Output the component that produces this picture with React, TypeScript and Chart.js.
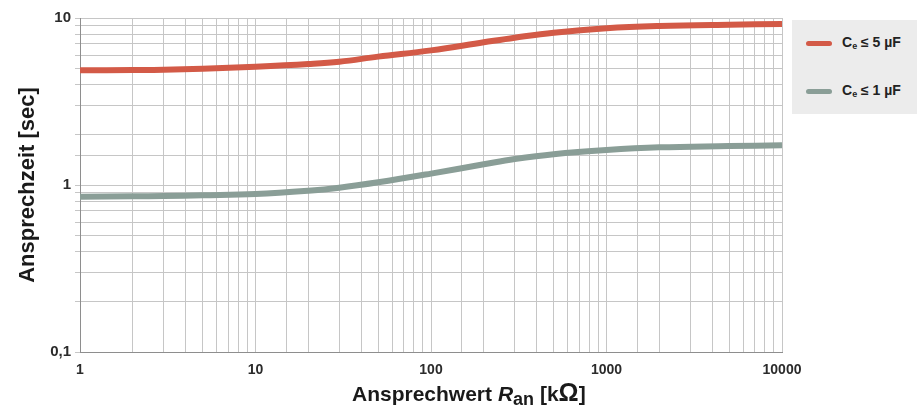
import React, { useEffect, useRef } from "react";
import { Chart, registerables } from "chart.js";

Chart.register(...registerables);

const resistance = [1, 2, 3, 5, 10, 20, 30, 50, 100, 200, 300, 500, 1000, 2000, 5000, 10000];
const responseCe5 = [4.86, 4.88, 4.9, 4.97, 5.11, 5.3, 5.47, 5.87, 6.4, 7.15, 7.62, 8.17, 8.68, 8.95, 9.12, 9.2];
const responseCe1 = [0.851, 0.855, 0.86, 0.868, 0.883, 0.924, 0.963, 1.038, 1.17, 1.33, 1.43, 1.53, 1.62, 1.68, 1.71, 1.73];
const xTickLabels = ["1", "10", "100", "1000", "10000"];
const yTickLabels = ["0,1", "1", "10"];
const yTickValues = [0.1, 1, 10];
const seriesNames = ["5 µF", "1 µF"];

const RED = "#d35a47";
const GREEN = "#8a9e97";
const GRID = "#c6c6c6";
const AXIS = "#8e8e8e";
const TICK_FONT = { family: '"Liberation Sans", Arial, sans-serif', size: 14, weight: "bold" as const };

export default function App() {
  const ref = useRef<HTMLCanvasElement | null>(null);

  useEffect(() => {
    if (!ref.current) return;
    const chart = new Chart(ref.current, {
      type: "line",
      data: {
        datasets: [
          {
            label: seriesNames[0],
            data: resistance.map((x, i) => ({ x, y: responseCe5[i] })),
            borderColor: RED,
            borderWidth: 6,
            pointRadius: 0,
            tension: 0.4,
            borderCapStyle: "butt",
          },
          {
            label: seriesNames[1],
            data: resistance.map((x, i) => ({ x, y: responseCe1[i] })),
            borderColor: GREEN,
            borderWidth: 6,
            pointRadius: 0,
            tension: 0.4,
            borderCapStyle: "butt",
          },
        ],
      },
      options: {
        responsive: false,
        animation: false,
        layout: { padding: { top: 18, right: 135, left: 0, bottom: 0 } },
        plugins: { legend: { display: false }, tooltip: { enabled: false } },
        scales: {
          x: {
            type: "logarithmic",
            min: 1,
            max: 10000,
            afterFit: (s: any) => {
              s.height = 55;
            },
            border: { color: AXIS, width: 1 },
            grid: { color: GRID, lineWidth: 1, tickLength: 0, drawTicks: true },
            ticks: {
              autoSkip: false,
              maxRotation: 0,
              padding: 10,
              color: "#2b2b2b",
              font: TICK_FONT,
              callback: (v: any) => {
                const l = Math.log10(Number(v));
                if (Math.abs(l - Math.round(l)) < 1e-9) {
                  return xTickLabels[Math.round(l)] ?? "";
                }
                return "";
              },
            },
          },
          y: {
            type: "logarithmic",
            min: 0.1,
            max: 10,
            afterFit: (s: any) => {
              s.width = 80;
            },
            border: { color: AXIS, width: 1 },
            grid: { color: GRID, lineWidth: 1, tickLength: 5 },
            title: {
              display: true,
              text: "Ansprechzeit [sec]",
              color: "#1a1a1a",
              font: { family: '"Liberation Sans", Arial, sans-serif', size: 22, weight: "bold" },
              padding: { top: 15, bottom: 0 },
            },
            ticks: {
              autoSkip: false,
              padding: 4,
              color: "#2b2b2b",
              font: { ...TICK_FONT, size: 15 },
              callback: (v: any) => {
                const n = Number(v);
                const idx = yTickValues.findIndex((t) => Math.abs(t - n) < 1e-9);
                return idx >= 0 ? yTickLabels[idx] : "";
              },
            },
          },
        },
      },
    });
    return () => chart.destroy();
  }, []);

  const legendText: React.CSSProperties = {
    fontFamily: '"Liberation Sans Narrow", "Liberation Sans", Arial, sans-serif',
    fontWeight: "bold",
    fontSize: 14,
    color: "#222",
    position: "absolute",
    left: 50,
    whiteSpace: "nowrap",
  };
  const legendLine = (color: string, top: number): React.CSSProperties => ({
    position: "absolute",
    left: 14,
    top,
    width: 26,
    height: 5,
    borderRadius: 3,
    background: color,
  });

  return (
    <div style={{ position: "absolute", left: 0, top: 0, width: 917, height: 407, background: "#fff", overflow: "hidden" }}>
      <canvas ref={ref} width={917} height={407} style={{ position: "absolute", left: 0, top: 0, width: 917, height: 407 }} />
      <div style={{ position: "absolute", left: 792, top: 20, width: 125, height: 94, background: "#ececec" }}>
        <div style={legendLine(RED, 21)} />
        <div style={{ ...legendText, top: 14 }}>
          C<sub style={{ fontSize: 9, verticalAlign: "-2px" }}>e</sub> ≤ {seriesNames[0]}
        </div>
        <div style={legendLine(GREEN, 69)} />
        <div style={{ ...legendText, top: 62 }}>
          C<sub style={{ fontSize: 9, verticalAlign: "-2px" }}>e</sub> ≤ {seriesNames[1]}
        </div>
      </div>
      <div
        style={{
          position: "absolute",
          left: 352,
          top: 380,
          fontFamily: '"Liberation Sans", Arial, sans-serif',
          fontWeight: "bold",
          fontSize: 21,
          color: "#1a1a1a",
          whiteSpace: "nowrap",
          lineHeight: "24px",
        }}
      >
        Ansprechwert <i>R</i>
        <sub style={{ fontSize: 18, verticalAlign: "-4px" }}>an</sub> [k<span style={{ fontSize: 25 }}>Ω</span>]
      </div>
    </div>
  );
}
